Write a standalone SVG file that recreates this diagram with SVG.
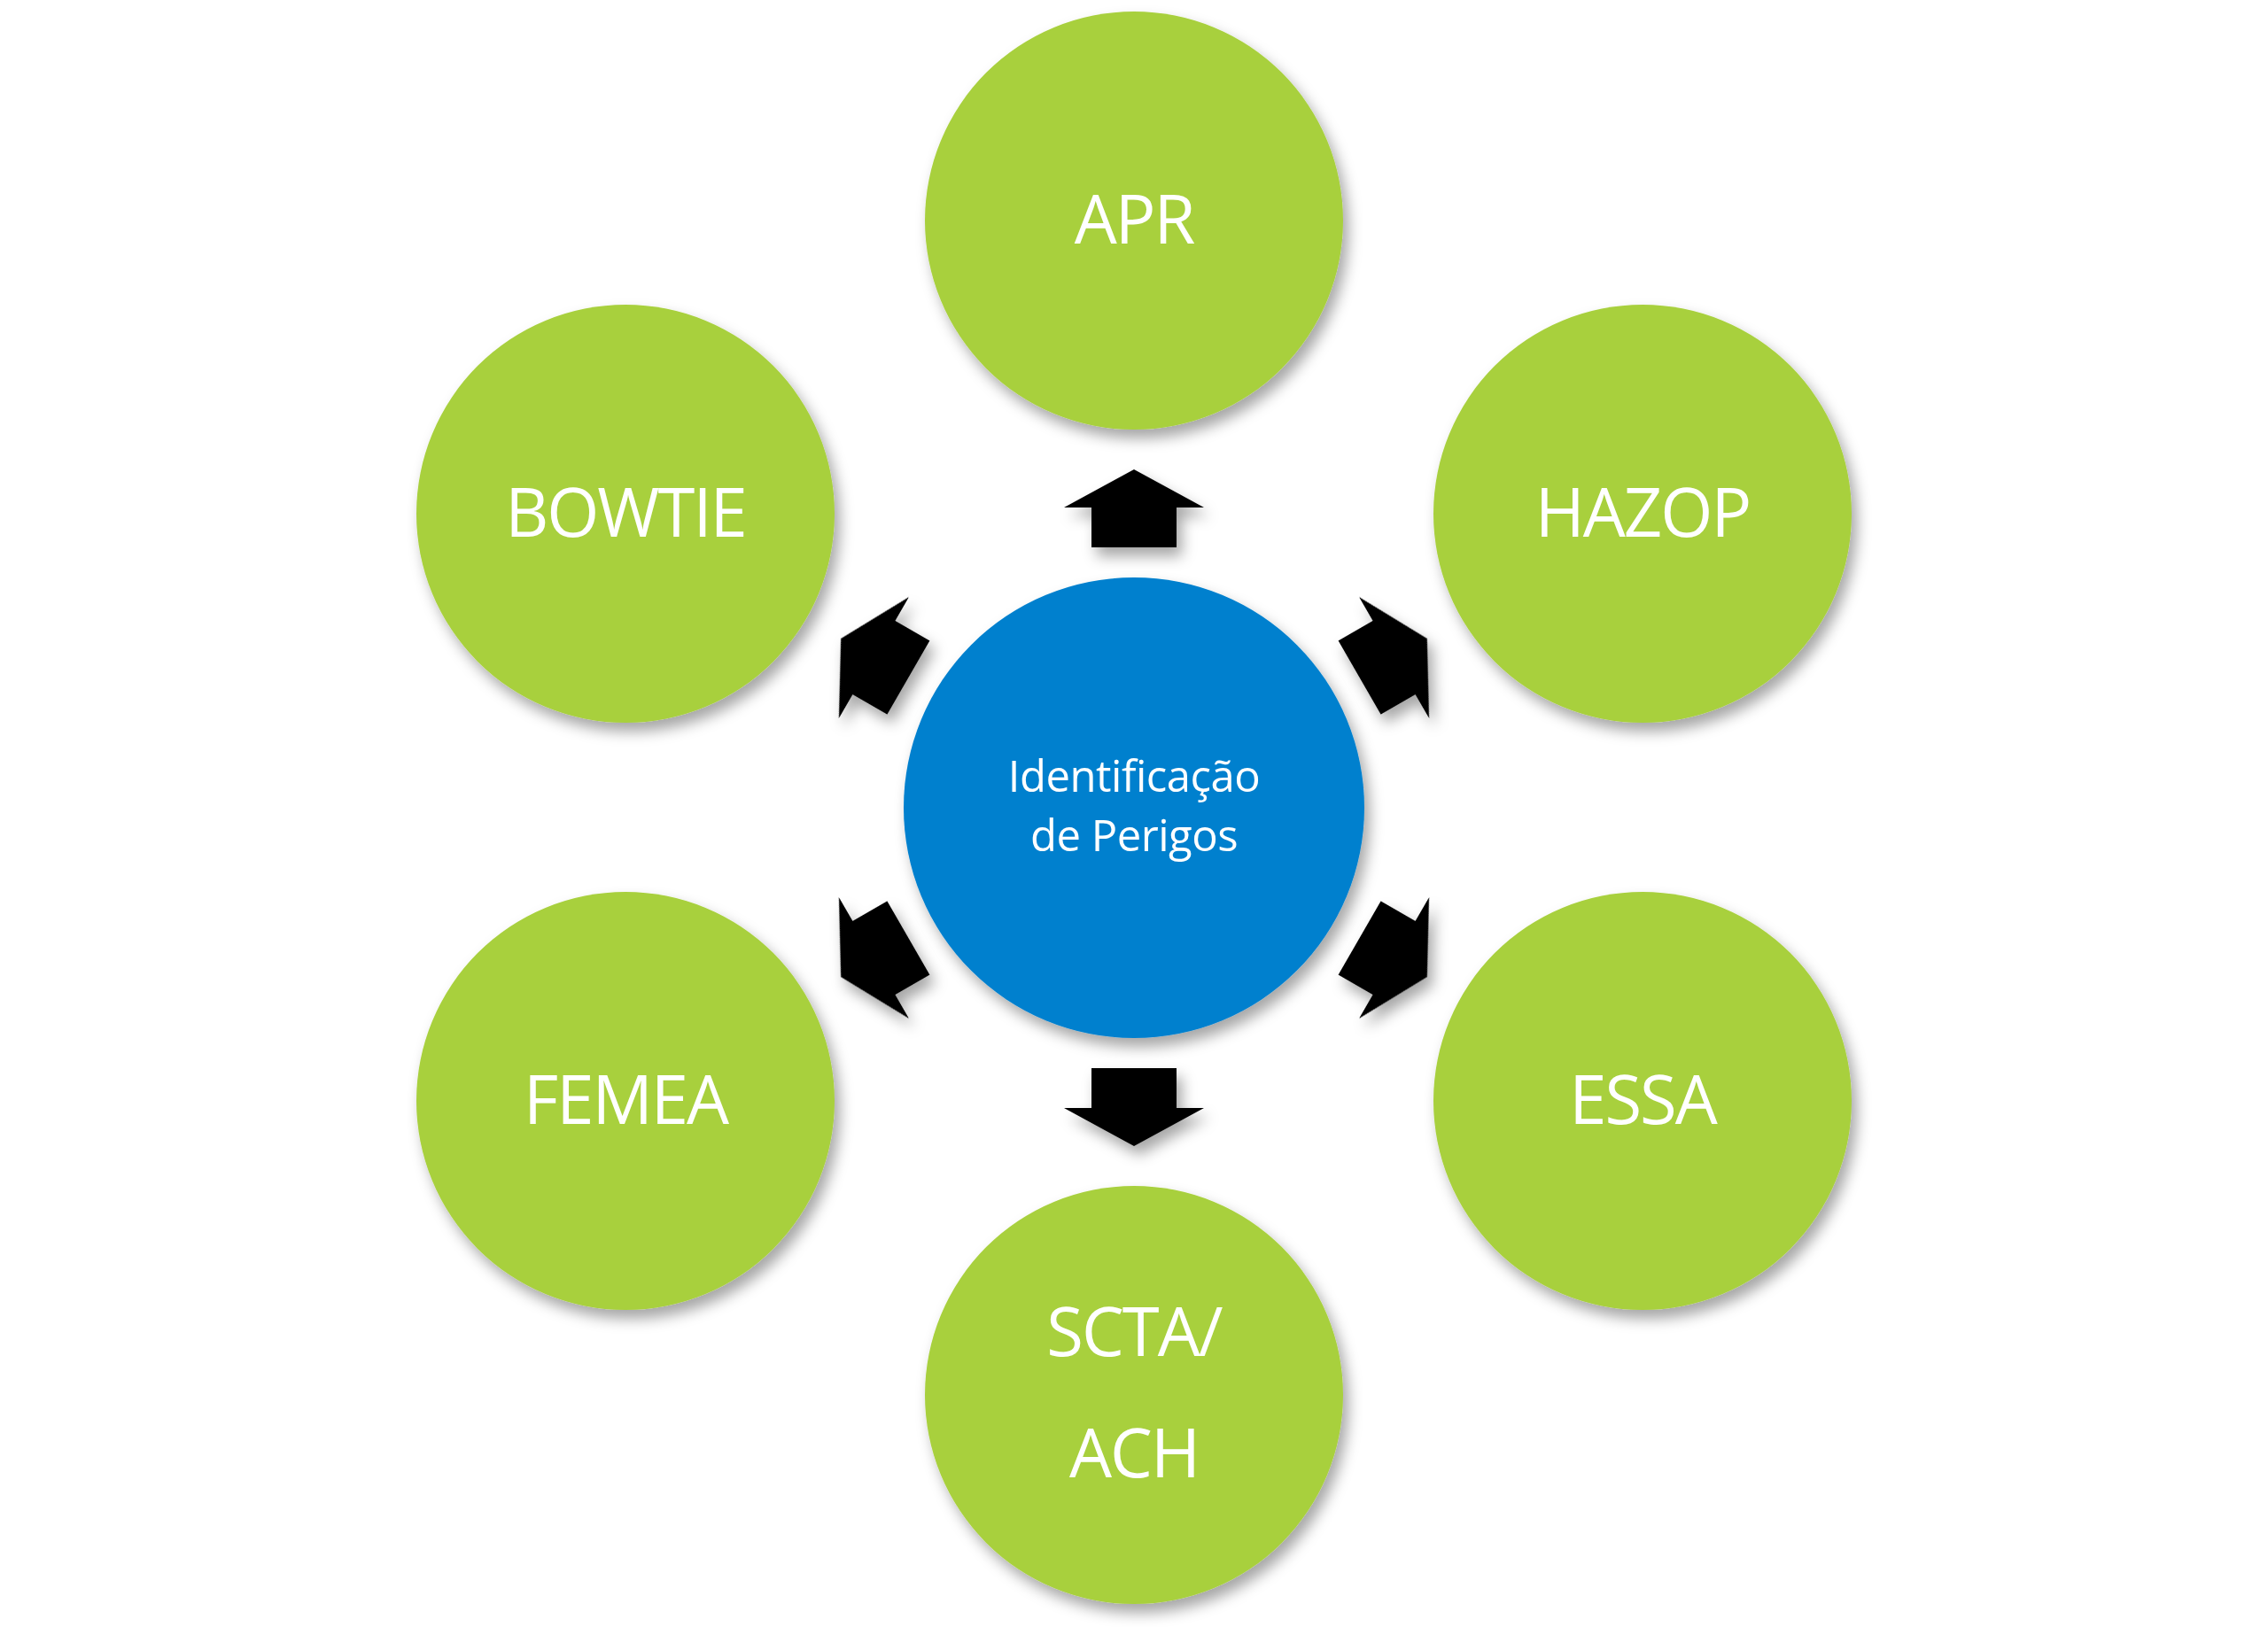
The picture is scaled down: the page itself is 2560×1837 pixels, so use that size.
<svg xmlns="http://www.w3.org/2000/svg" width="2560" height="1837" viewBox="0 0 2560 1837">
<style>
.g{fill:#A8D03E}
.b{fill:#0080CE}
.t{fill:#fff;font-family:"Open Sans","Liberation Sans",sans-serif;text-anchor:middle}
.L{font-size:76px;letter-spacing:-2px}
.S{font-size:49px;letter-spacing:-0.5px}
.a{fill:#000}
</style>
<defs>
<filter id="sh" x="-20%" y="-20%" width="140%" height="140%">
<feDropShadow dx="6" dy="10" stdDeviation="8" flood-color="#000" flood-opacity="0.35"/>
</filter>
<polygon id="arr" points="-48,-294 -48,-339 -79,-339 0,-382 79,-339 48,-339 48,-294"/>
</defs>
<rect width="2560" height="1837" fill="#fff"/>
<g id="connectors" class="a" filter="url(#sh)">
<use href="#arr" transform="translate(1280,912) rotate(0)"/>
<use href="#arr" transform="translate(1280,912) rotate(60)"/>
<use href="#arr" transform="translate(1280,912) rotate(120)"/>
<use href="#arr" transform="translate(1280,912) rotate(180)"/>
<use href="#arr" transform="translate(1280,912) rotate(240)"/>
<use href="#arr" transform="translate(1280,912) rotate(300)"/>
</g>
<g id="center"><circle class="b" cx="1280" cy="912" r="260" filter="url(#sh)"/>
<text class="t S" x="1280" y="894">Identificação</text><text class="t S" x="1280" y="961">de Perigos</text></g>
<g id="apr"><circle class="g" cx="1280" cy="249" r="236" filter="url(#sh)"/><text class="t L" x="1280" y="275">APR</text></g>
<g id="hazop"><circle class="g" cx="1854" cy="580" r="236" filter="url(#sh)"/><text class="t L" x="1854" y="606">HAZOP</text></g>
<g id="essa"><circle class="g" cx="1854" cy="1243" r="236" filter="url(#sh)"/><text class="t L" x="1854" y="1269">ESSA</text></g>
<g id="scta"><circle class="g" cx="1280" cy="1575" r="236" filter="url(#sh)"/><text class="t L" x="1280" y="1531">SCTA/</text><text class="t L" x="1280" y="1668">ACH</text></g>
<g id="femea"><circle class="g" cx="706" cy="1243" r="236" filter="url(#sh)"/><text class="t L" x="706" y="1269">FEMEA</text></g>
<g id="bowtie"><circle class="g" cx="706" cy="580" r="236" filter="url(#sh)"/><text class="t L" x="706" y="606">BOWTIE</text></g>
</svg>
